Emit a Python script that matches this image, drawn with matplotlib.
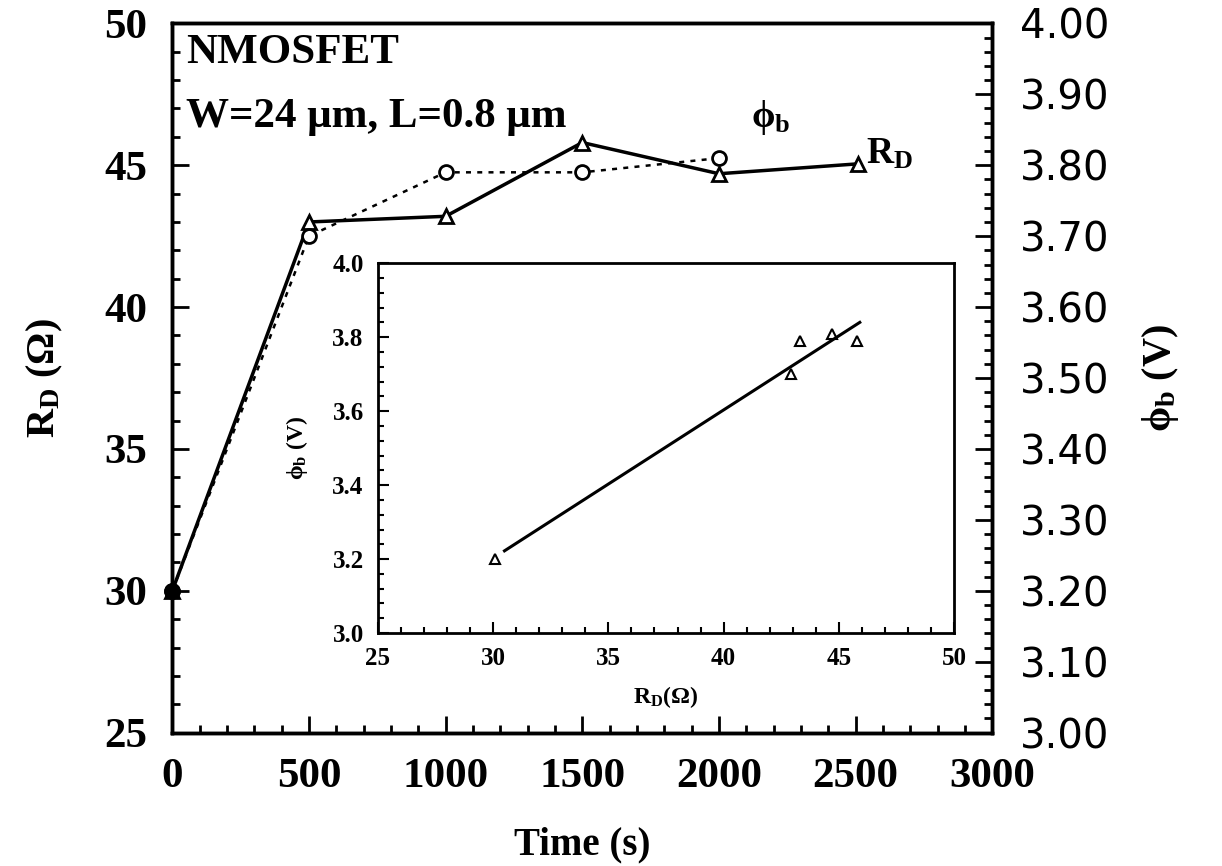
import numpy as np
import matplotlib.pyplot as plt
from matplotlib.ticker import MultipleLocator, FormatStrFormatter

plt.rcParams['font.family'] = ['Liberation Serif', 'DejaVu Serif']
plt.rcParams['font.weight'] = 'bold'
plt.rcParams['axes.labelweight'] = 'bold'
plt.rcParams['mathtext.fontset'] = 'custom'
plt.rcParams['mathtext.rm'] = 'Liberation Serif:bold'
plt.rcParams['mathtext.it'] = 'Liberation Serif:bold'
plt.rcParams['mathtext.bf'] = 'Liberation Serif:bold'

# main plot data
time_rd = [0, 500, 1000, 1500, 2000, 2510]
rd = [30.0, 43.0, 43.2, 45.8, 44.7, 45.05]
time_phi = [0, 500, 1000, 1500, 2000]
phi_b = [3.20, 3.70, 3.79, 3.79, 3.81]

# inset data
inset_rd = [30.1, 42.9, 43.3, 44.7, 45.8]
inset_phi = [3.20, 3.70, 3.79, 3.81, 3.79]
fit_range = [30.5, 45.9]

fig = plt.figure(figsize=(12.22, 8.66), dpi=100)
ax = fig.add_axes([0.141, 0.154, 0.671, 0.819])
ax2 = ax.twinx()

ax.plot(time_rd, rd, '-', color='black', lw=2.5, marker='^', ms=10,
        mfc='white', mec='black', mew=2, zorder=3, clip_on=False)
ax2.plot(time_phi, phi_b, color='black', lw=1.8, ls=(0, (2, 2.5)),
         marker='o', ms=10, mfc='white', mec='black', mew=2, zorder=2,
         clip_on=False)
# shared starting point drawn as a filled dot
ax2.plot(time_phi[0], phi_b[0], 'o', color='black', ms=11, zorder=4,
         clip_on=False)

ax.set_xlim(0, 3000)
ax.set_ylim(25, 50)
ax2.set_ylim(3.0, 4.0)

ax.xaxis.set_major_locator(MultipleLocator(500))
ax.xaxis.set_minor_locator(MultipleLocator(100))
ax.yaxis.set_major_locator(MultipleLocator(5))
ax.yaxis.set_minor_locator(MultipleLocator(1))
ax2.yaxis.set_major_locator(MultipleLocator(0.1))
ax2.yaxis.set_minor_locator(MultipleLocator(0.02))
ax2.yaxis.set_major_formatter(FormatStrFormatter('%.2f'))

ax.tick_params(which='both', direction='in', top=False, right=False, width=2)
ax.tick_params(which='major', length=12, labelsize=31, pad=18)
ax.tick_params(which='minor', length=6)
ax2.tick_params(which='both', direction='in', width=2)
ax2.tick_params(which='major', length=12, labelsize=29, pad=20)
ax2.tick_params(which='minor', length=6)
for lab in ax2.get_yticklabels():
    lab.set_family('DejaVu Sans')
    lab.set_weight('normal')

for a in (ax, ax2):
    for s in a.spines.values():
        s.set_linewidth(2.5)

ax.set_xlabel('Time (s)', fontsize=28, labelpad=22)
ax.set_ylabel(r'$R_D$ ($\Omega$)', fontsize=29, labelpad=28)
ax2.set_ylabel(r'$\phi_b$ (V)', fontsize=29, labelpad=22)

ax.text(0.017, 0.985, 'NMOSFET', transform=ax.transAxes, fontsize=31,
        va='top', ha='left')
ax.text(0.017, 0.895, 'W=24 \u03bcm, L=0.8 \u03bcm', transform=ax.transAxes,
        fontsize=31, va='top', ha='left')
ax.text(0.73, 0.895, r'$\phi_b$', transform=ax.transAxes, fontsize=27,
        va='top', ha='center')
ax.text(0.875, 0.84, r'$R_D$', transform=ax.transAxes, fontsize=27,
        va='top', ha='center')

# inset
ins = fig.add_axes([0.309, 0.269, 0.472, 0.427])
ins.plot(inset_rd, inset_phi, '^', ms=7, mfc='white', mec='black', mew=1.5)
coef = np.polyfit(inset_rd, inset_phi, 1)
ins.plot(fit_range, np.polyval(coef, fit_range), '-', color='black', lw=2.2)
ins.set_xlim(25, 50)
ins.set_ylim(3.0, 4.0)
ins.xaxis.set_major_locator(MultipleLocator(5))
ins.xaxis.set_minor_locator(MultipleLocator(1))
ins.yaxis.set_major_locator(MultipleLocator(0.2))
ins.yaxis.set_minor_locator(MultipleLocator(0.04))
ins.yaxis.set_major_formatter(FormatStrFormatter('%.1f'))
ins.tick_params(which='both', direction='in', width=1.5)
ins.tick_params(which='major', length=8, labelsize=18, pad=10)
ins.tick_params(which='minor', length=4)
for s in ins.spines.values():
    s.set_linewidth(2)
ins.set_xlabel(r'$R_D$($\Omega$)', fontsize=17, labelpad=10)
ins.set_ylabel(r'$\phi_b$ (V)', fontsize=17, labelpad=16)

fig.savefig('out.png', dpi=100)
